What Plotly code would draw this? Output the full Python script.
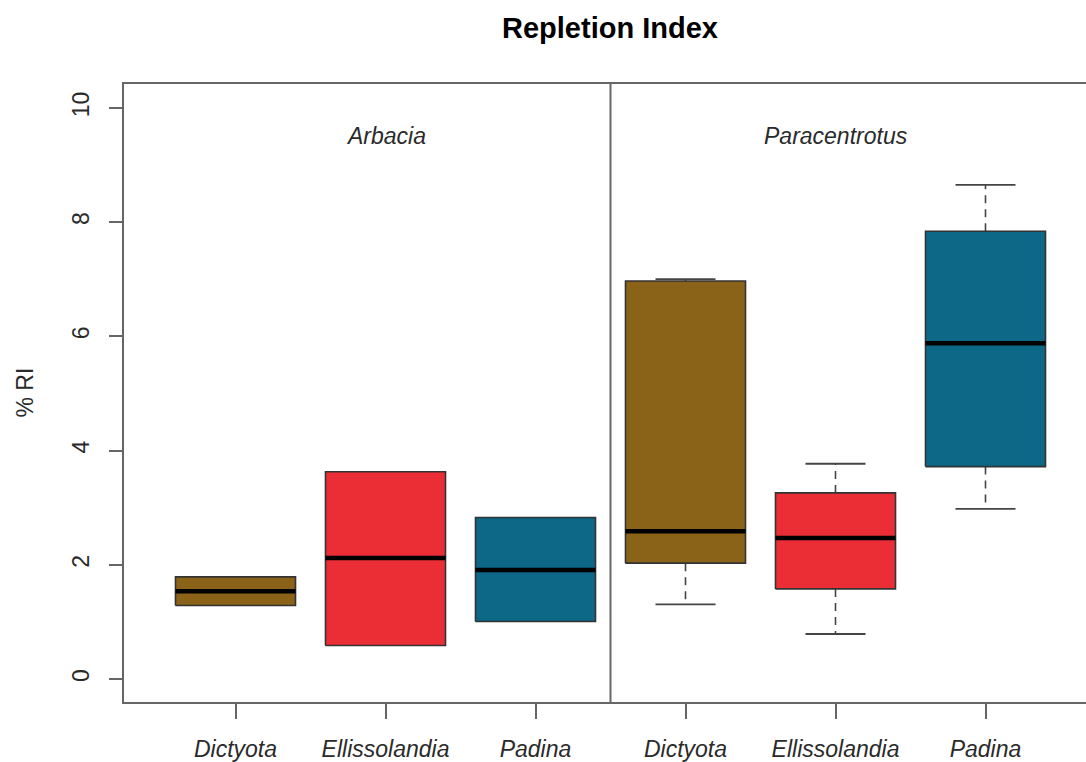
import plotly.graph_objects as go

# Repletion index (%) of two sea urchins fed three algal diets
species = ["Dictyota", "Ellissolandia", "Padina"]
urchins = ["Arbacia", "Paracentrotus"]
diet_colors = ["#8A6318", "#EB2E36", "#0D6786"]

arbacia_lower = [1.29, 0.59, 1.01]
arbacia_q1 = [1.29, 0.59, 1.01]
arbacia_median = [1.54, 2.12, 1.91]
arbacia_q3 = [1.79, 3.63, 2.83]
arbacia_upper = [1.79, 3.63, 2.83]

paracentrotus_lower = [1.31, 0.79, 2.98]
paracentrotus_q1 = [2.03, 1.58, 3.72]
paracentrotus_median = [2.59, 2.47, 5.88]
paracentrotus_q3 = [6.97, 3.26, 7.84]
paracentrotus_upper = [7.00, 3.77, 8.65]

y_ticks = [0, 2, 4, 6, 8, 10]

stats = {
    "Arbacia": (arbacia_lower, arbacia_q1, arbacia_median, arbacia_q3, arbacia_upper),
    "Paracentrotus": (paracentrotus_lower, paracentrotus_q1, paracentrotus_median,
                      paracentrotus_q3, paracentrotus_upper),
}

HALF_BOX = 0.4
HALF_STAPLE = 0.2
FRAME = "#666666"
EDGE = "#333333"
TEXT = "#2a2a2a"
FONT = "Liberation Sans, Arial"

fig = go.Figure()

positions, labels = [], []
for g, urchin in enumerate(urchins):
    lower, q1, med, q3, upper = stats[urchin]
    for s, name in enumerate(species):
        x = g * len(species) + s + 1
        positions.append(x)
        labels.append(f"<i>{name}</i>")
        # whiskers (dashed) and staples
        for hinge, end in ((q3[s], upper[s]), (q1[s], lower[s])):
            if end != hinge:
                fig.add_trace(go.Scatter(
                    x=[x, x], y=[hinge, end], mode="lines",
                    line=dict(color="#444444", width=1.6, dash="8px,6px"),
                    hoverinfo="skip", showlegend=False))
                fig.add_trace(go.Scatter(
                    x=[x - HALF_STAPLE, x + HALF_STAPLE], y=[end, end], mode="lines",
                    line=dict(color="#444444", width=1.8),
                    hoverinfo="skip", showlegend=False))
        # box body
        fig.add_trace(go.Scatter(
            x=[x - HALF_BOX, x + HALF_BOX, x + HALF_BOX, x - HALF_BOX, x - HALF_BOX],
            y=[q1[s], q1[s], q3[s], q3[s], q1[s]],
            mode="lines", fill="toself", fillcolor=diet_colors[s],
            line=dict(color=EDGE, width=1.6),
            hoverinfo="skip", showlegend=False))
        # median
        fig.add_trace(go.Scatter(
            x=[x - HALF_BOX, x + HALF_BOX], y=[med[s], med[s]], mode="lines",
            line=dict(color="black", width=4.5),
            hoverinfo="skip", showlegend=False))

# divider between the two urchin panels
fig.add_shape(type="line", xref="x", yref="paper",
              x0=len(species) + 0.5, x1=len(species) + 0.5, y0=0, y1=1,
              line=dict(color=FRAME, width=2))

# panel names
for g, urchin in enumerate(urchins):
    fig.add_annotation(x=g * len(species) + 2, y=9.5, xref="x", yref="y",
                       text=f"<i>{urchin}</i>", showarrow=False,
                       font=dict(family=FONT, size=23, color=TEXT))

# y axis title
fig.add_annotation(x=-0.1034, y=0.5, xref="paper", yref="paper",
                   xanchor="center", yanchor="middle",
                   text="% RI", textangle=-90, showarrow=False,
                   font=dict(family=FONT, size=23, color=TEXT))

fig.update_layout(
    width=1086, height=762,
    margin=dict(l=124, r=0, t=84, b=56),
    paper_bgcolor="white", plot_bgcolor="white",
    title=dict(text="<b>Repletion Index</b>", xref="container", yref="container",
               x=610 / 1086, xanchor="center", y=1 - 28 / 762, yanchor="middle",
               font=dict(family=FONT, size=29, color="black")),
    font=dict(family=FONT, size=23, color=TEXT),
    xaxis=dict(range=[0.2567, 6.67], tickvals=positions, ticktext=labels,
               ticks="outside", ticklen=15, tickwidth=1.5, tickcolor=FRAME,
               ticklabelstandoff=10,
               showline=True, linecolor=FRAME, linewidth=2, mirror=True,
               showgrid=False, zeroline=False,
               tickfont=dict(family=FONT, size=23, color=TEXT)),
    yaxis=dict(range=[-0.4, 10.417], tickvals=y_ticks,
               ticks="outside", ticklen=13, tickwidth=1.5, tickcolor=FRAME,
               tickangle=-90, ticklabelstandoff=11,
               showline=True, linecolor=FRAME, linewidth=2,
               showgrid=False, zeroline=False,
               tickfont=dict(family=FONT, size=23, color=TEXT)),
)

fig.write_html("out.html")
